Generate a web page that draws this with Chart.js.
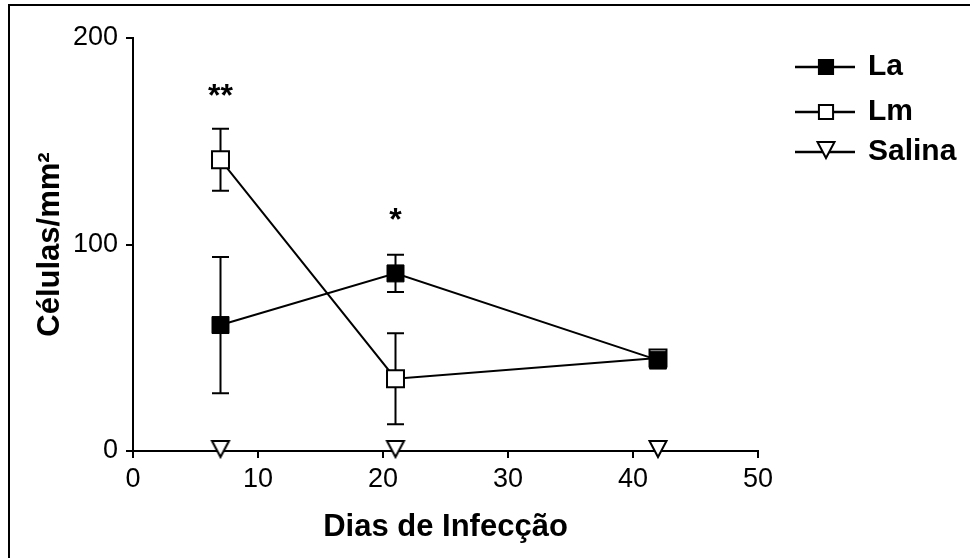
<!DOCTYPE html>
<html>
<head>
<meta charset="utf-8">
<script src="https://cdn.jsdelivr.net/npm/chart.js@4.4.1/dist/chart.umd.min.js"></script>
<style>
html,body{margin:0;padding:0;background:#fff;}
#wrap{width:970px;height:558px;position:relative;}
</style>
</head>
<body>
<div id="wrap"><canvas id="c" width="970" height="558"></canvas></div>
<script>
// ---- data ----
const days = [7, 21, 42];
const laMean = [61, 86, 44];
const laErr = [33, 9, 4];
const lmMean = [141, 35, 45];
const lmErr = [15, 22, 3];
const salinaMean = [0, 0, 0];
const seriesLabels = ['La', 'Lm', 'Salina'];
const sigDays = [7, 21];
const sigLevel = [174, 114];
const sigText = ['**', '*'];
const xTicks = [0, 10, 20, 30, 40, 50];
const yTicks = [0, 100, 200];

const FONT = '"Liberation Sans", Arial, Helvetica, sans-serif';

function pts(xs, ys) { return xs.map((x, i) => ({x: x, y: ys[i]})); }

// down-pointing open triangle marker that sits on its point (style only)
function makeTriangle() {
  const cv = document.createElement('canvas');
  cv.width = 24; cv.height = 24;
  const g = cv.getContext('2d');
  g.fillStyle = '#fff';
  g.strokeStyle = '#000';
  g.lineWidth = 2;
  g.lineJoin = 'miter';
  g.beginPath();
  g.moveTo(3.5, 2); g.lineTo(20.5, 2); g.lineTo(12, 18); g.closePath();
  g.fill(); g.stroke();
  return cv;
}
const triImg = makeTriangle();

const errorBars = {
  id: 'errorBars',
  beforeDatasetsDraw(chart) {
    const ctx = chart.ctx, xs = chart.scales.x, ys = chart.scales.y;
    ctx.save();
    ctx.strokeStyle = '#000';
    ctx.lineWidth = 2;
    chart.data.datasets.forEach(ds => {
      if (!ds.err) return;
      ds.data.forEach((p, i) => {
        const e = ds.err[i];
        const px = xs.getPixelForValue(p.x);
        const top = ys.getPixelForValue(p.y + e);
        const bot = ys.getPixelForValue(p.y - e);
        ctx.beginPath();
        ctx.moveTo(px, top); ctx.lineTo(px, bot);
        ctx.moveTo(px - 8.5, top); ctx.lineTo(px + 8.5, top);
        ctx.moveTo(px - 8.5, bot); ctx.lineTo(px + 8.5, bot);
        ctx.stroke();
      });
    });
    ctx.restore();
  }
};

const extras = {
  id: 'extras',
  afterDraw(chart) {
    const ctx = chart.ctx, xs = chart.scales.x, ys = chart.scales.y;
    ctx.save();
    // frame (top and left)
    ctx.strokeStyle = '#000';
    ctx.lineWidth = 2;
    ctx.beginPath();
    ctx.moveTo(9, 558); ctx.lineTo(9, 5); ctx.lineTo(970, 5);
    ctx.stroke();
    // significance marks
    ctx.fillStyle = '#000';
    ctx.font = 'bold 32px ' + FONT;
    ctx.textAlign = 'center';
    ctx.textBaseline = 'alphabetic';
    sigDays.forEach((d, i) => {
      ctx.fillText(sigText[i], xs.getPixelForValue(d), ys.getPixelForValue(sigLevel[i]) + 14);
    });
    // legend
    const rows = [67, 112, 152];
    chart.data.datasets.forEach((ds, i) => {
      const y = rows[i];
      ctx.strokeStyle = '#000';
      ctx.lineWidth = 2.5;
      ctx.beginPath();
      ctx.moveTo(795, y); ctx.lineTo(855, y);
      ctx.stroke();
      ctx.fillStyle = ds.pointBackgroundColor;
      ctx.strokeStyle = '#000';
      ctx.lineWidth = 2;
      Chart.helpers.drawPoint(ctx, {
        pointStyle: ds.pointStyle,
        radius: 10,
        rotation: 0,
        borderWidth: 2
      }, 826, y);
      ctx.fillStyle = '#000';
      ctx.font = 'bold 30px ' + FONT;
      ctx.textAlign = 'left';
      ctx.textBaseline = 'middle';
      ctx.fillText(ds.label, 868, y);
    });
    ctx.restore();
  }
};

new Chart(document.getElementById('c'), {
  type: 'scatter',
  data: {
    datasets: [
      {label: seriesLabels[0], data: pts(days, laMean), err: laErr, showLine: true,
       borderColor: '#000', borderWidth: 2, pointStyle: 'rect', pointRadius: 12,
       pointBackgroundColor: '#000', pointBorderColor: '#000', pointBorderWidth: 1, clip: false},
      {label: seriesLabels[1], data: pts(days, lmMean), err: lmErr, showLine: true,
       borderColor: '#000', borderWidth: 2, pointStyle: 'rect', pointRadius: 12,
       pointBackgroundColor: '#fff', pointBorderColor: '#000', pointBorderWidth: 2, clip: false},
      {label: seriesLabels[2], data: pts(days, salinaMean), showLine: true,
       borderColor: '#000', borderWidth: 2, pointStyle: triImg, pointRadius: 10,
       pointBackgroundColor: '#fff', pointBorderColor: '#000', pointBorderWidth: 2, clip: false}
    ]
  },
  options: {
    responsive: false,
    animation: false,
    devicePixelRatio: 1,
    layout: {padding: {top: 38, right: 212, left: 0, bottom: 0}},
    plugins: {legend: {display: false}, tooltip: {enabled: false}},
    scales: {
      x: {
        type: 'linear', min: 0, max: 50,
        afterBuildTicks(s) { s.ticks = xTicks.map(v => ({value: v})); },
        afterFit(s) { s.height = 107; },
        border: {color: '#000', width: 2},
        grid: {drawOnChartArea: false, drawTicks: true, tickLength: 7, color: '#000', lineWidth: 2},
        ticks: {color: '#000', padding: 5, font: {family: FONT, size: 27}, maxRotation: 0},
        title: {display: true, text: 'Dias de Infecção', color: '#000',
                font: {family: FONT, size: 31, weight: 'bold'}, padding: {top: 0, bottom: 12}}
      },
      y: {
        type: 'linear', min: 0, max: 200,
        afterBuildTicks(s) { s.ticks = yTicks.map(v => ({value: v})); },
        afterFit(s) { s.width = 133; },
        border: {color: '#000', width: 2},
        grid: {drawOnChartArea: false, drawTicks: true, tickLength: 7, color: '#000', lineWidth: 2},
        ticks: {color: '#000', padding: 8, font: {family: FONT, size: 27}},
        title: {display: true, text: 'Células/mm²', color: '#000',
                font: {family: FONT, size: 31, weight: 'bold'}, padding: {top: 32, bottom: 0}}
      }
    }
  },
  plugins: [errorBars, extras]
});
</script>
</body>
</html>
